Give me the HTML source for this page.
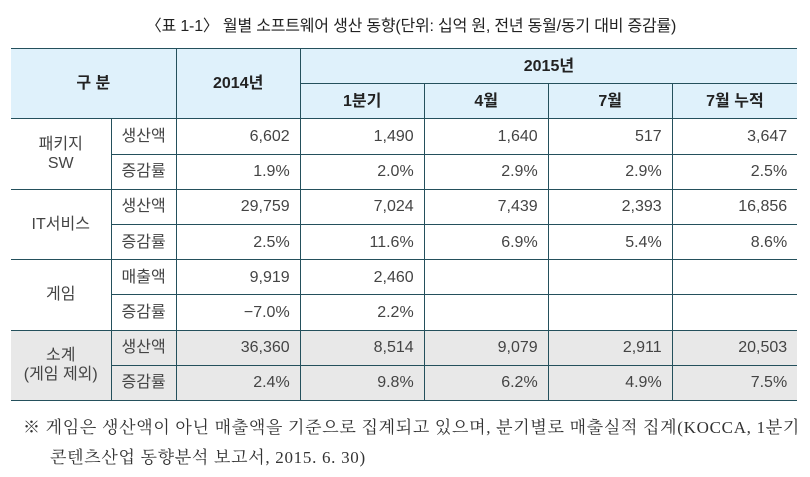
<!DOCTYPE html>
<html><head><meta charset="utf-8"><style>
body{margin:0;width:810px;height:477px;background:#fff;font-family:"Liberation Sans","Noto Sans CJK KR",sans-serif;color:#333;position:relative;overflow:hidden}
.t{position:absolute;left:0;width:810px;top:12px;text-align:center;font-size:16px;color:#222;padding-left:12px;box-sizing:border-box;letter-spacing:-0.2px}
table{position:absolute;left:11px;top:48px;border-collapse:collapse;table-layout:fixed}
td{border:1.5px solid #24505c;height:34.2px;padding:0 10px;font-size:16px;color:#444;white-space:nowrap;line-height:19px}
tr td:first-child{border-left:none}
tr td:last-child{border-right:none}
.h{background:#dff1fb;font-weight:bold;color:#222;text-align:center;font-size:16px}
.r{text-align:right}
.c{text-align:center}
.g td{background:#e8e8e8}
.f{position:absolute;left:23px;font-size:17px;letter-spacing:0.7px;color:#333;font-family:"Liberation Serif","Noto Serif CJK SC","Noto Sans CJK KR",serif;white-space:nowrap}
</style></head><body>
<div class="t">〈표 1-1〉 월별 소프트웨어 생산 동향(단위: 십억 원, 전년 동월/동기 대비 증감률)</div>
<table>
<colgroup><col style="width:100px"><col style="width:65px"><col style="width:124px"><col style="width:124px"><col style="width:124px"><col style="width:124px"><col style="width:125px"></colgroup>
<tr><td class="h" colspan="2" rowspan="2">구 분</td><td class="h" rowspan="2">2014년</td><td class="h" colspan="4">2015년</td></tr>
<tr><td class="h">1분기</td><td class="h">4월</td><td class="h">7월</td><td class="h">7월 누적</td></tr>
<tr><td class="c" rowspan="2">패키지<br>SW</td><td class="c">생산액</td><td class="r">6,602</td><td class="r">1,490</td><td class="r">1,640</td><td class="r">517</td><td class="r">3,647</td></tr>
<tr><td class="c">증감률</td><td class="r">1.9%</td><td class="r">2.0%</td><td class="r">2.9%</td><td class="r">2.9%</td><td class="r">2.5%</td></tr>
<tr><td class="c" rowspan="2">IT서비스</td><td class="c">생산액</td><td class="r">29,759</td><td class="r">7,024</td><td class="r">7,439</td><td class="r">2,393</td><td class="r">16,856</td></tr>
<tr><td class="c">증감률</td><td class="r">2.5%</td><td class="r">11.6%</td><td class="r">6.9%</td><td class="r">5.4%</td><td class="r">8.6%</td></tr>
<tr><td class="c" rowspan="2">게임</td><td class="c">매출액</td><td class="r">9,919</td><td class="r">2,460</td><td></td><td></td><td></td></tr>
<tr><td class="c">증감률</td><td class="r">−7.0%</td><td class="r">2.2%</td><td></td><td></td><td></td></tr>
<tr class="g"><td class="c" rowspan="2">소계<br>(게임 제외)</td><td class="c">생산액</td><td class="r">36,360</td><td class="r">8,514</td><td class="r">9,079</td><td class="r">2,911</td><td class="r">20,503</td></tr>
<tr class="g"><td class="c">증감률</td><td class="r">2.4%</td><td class="r">9.8%</td><td class="r">6.2%</td><td class="r">4.9%</td><td class="r">7.5%</td></tr>
</table>
<div class="f" style="top:413px">※ 게임은 생산액이 아닌 매출액을 기준으로 집계되고 있으며, 분기별로 매출실적 집계(KOCCA, 1분기</div>
<div class="f" style="top:443px;left:50px">콘텐츠산업 동향분석 보고서, 2015. 6. 30)</div>
</body></html>
